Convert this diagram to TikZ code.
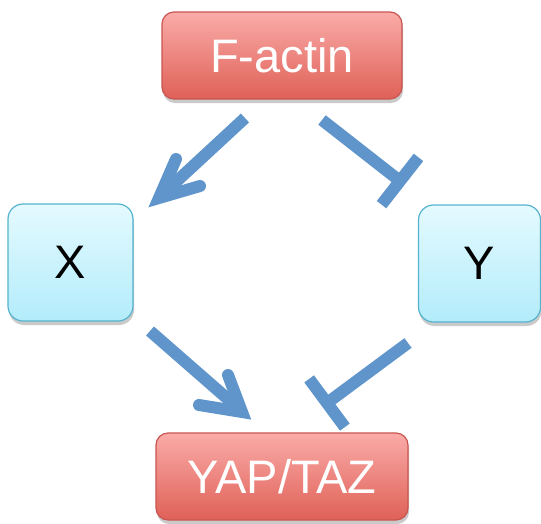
\documentclass[tikz,border=0pt]{standalone}
\usepackage{fontspec}
\setmainfont{Liberation Sans}
\usetikzlibrary{shadows,calc}
\definecolor{arrowblue}{HTML}{5F95CB}
\definecolor{redtop}{HTML}{FAABA8}
\definecolor{redbot}{HTML}{DF6157}
\definecolor{redborder}{HTML}{C95550}
\definecolor{bluetop}{HTML}{E4FAFF}
\definecolor{bluebot}{HTML}{B3ECFB}
\definecolor{blueborder}{HTML}{55B3CE}
\begin{document}
\begin{tikzpicture}[x=1pt,y=-1pt,
  boxshadow/.style={drop shadow={shadow xshift=1pt,shadow yshift=-4pt,opacity=0.35,fill=black!60}},
  redbox/.style={rounded corners=12pt, draw=redborder, line width=1.2pt,
    top color=redtop, bottom color=redbot, text=white,
    font=\fontsize{47}{50}\selectfont, boxshadow,
    minimum height=87pt, inner sep=0pt},
  bluebox/.style={rounded corners=15pt, draw=blueborder, line width=1.2pt,
    top color=bluetop, bottom color=bluebot, text=black,
    font=\fontsize{47}{50}\selectfont, boxshadow,
    minimum height=117pt, inner sep=0pt},
  shaft/.style={draw=arrowblue, line width=12pt},
  chevron/.style={draw=arrowblue, line width=12pt, line cap=round, line join=miter},
  tbar/.style={draw=arrowblue, line width=12pt}
]
\useasboundingbox (0,0) rectangle (541,523);
\node[redbox, minimum width=240pt] (factin) at (282,55.5) {F-actin};
\node[bluebox, minimum width=125pt] (x) at (70.5,262.5) {X};
\node[bluebox, minimum width=122pt] (y) at (479.5,263.5) {Y};
\node[redbox, minimum width=252pt] (yap) at (282,476.5) {YAP/TAZ};

% F-actin -> X
\coordinate (a1s) at (245,118);
\coordinate (a1e) at (165,192);
\coordinate (a1t) at (159,198);
\coordinate (a1l) at (176,159);
\coordinate (a1r) at (200,186);
\draw[shaft] (a1s) -- (a1e);
\draw[chevron] (a1l) -- (a1t) -- (a1r);

% F-actin -| Y
\coordinate (a2s) at (322,120);
\coordinate (a2e) at (400,181);
\draw[shaft] (a2s) -- (a2e);
\draw[tbar] ($(a2e)!30pt!90:(a2s)$) -- ($(a2e)!30pt!-90:(a2s)$);

% X -> YAP/TAZ
\coordinate (a3s) at (150,331);
\coordinate (a3e) at (237,407);
\coordinate (a3t) at (242,412);
\coordinate (a3l) at (228,375);
\coordinate (a3r) at (199,405);
\draw[shaft] (a3s) -- (a3e);
\draw[chevron] (a3l) -- (a3t) -- (a3r);

% Y -| YAP/TAZ
\coordinate (a4s) at (408,343);
\coordinate (a4e) at (327,403);
\draw[shaft] (a4s) -- (a4e);
\draw[tbar] ($(a4e)!30pt!90:(a4s)$) -- ($(a4e)!30pt!-90:(a4s)$);
\end{tikzpicture}
\end{document}
